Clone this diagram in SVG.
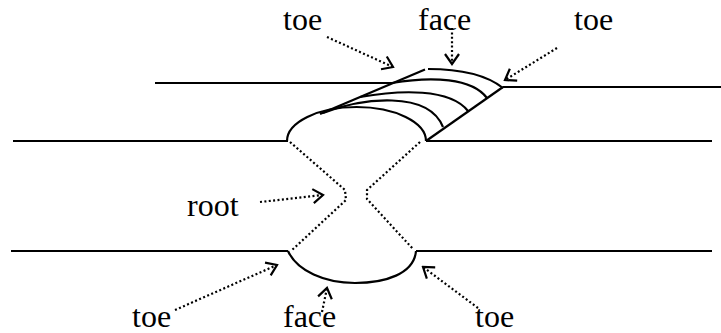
<svg xmlns="http://www.w3.org/2000/svg" width="721" height="333" viewBox="0 0 721 333">
  <style>
    .solid { fill: none; stroke: #000; stroke-width: 2.2; stroke-linecap: butt; stroke-linejoin: round; }
    .dot { fill: none; stroke: #000; stroke-width: 2.2; stroke-dasharray: 2 2.4; }
    .lbl { font-family: "Liberation Serif", "Times New Roman", serif; font-size: 32px; fill: #000; }
  </style>
  <defs>
    <!-- open V arrowhead for the leader lines -->
    <marker id="open" viewBox="-12 -8 14 16" markerWidth="14" markerHeight="16" refX="0" refY="0" orient="auto" markerUnits="userSpaceOnUse">
      <path d="M-10,-7 L0,0 L-10,7" fill="none" stroke="#000" stroke-width="2.2" stroke-linejoin="miter"/>
    </marker>
  </defs>

  <rect width="721" height="333" fill="#fff"/>

  <!-- plate edges -->
  <g id="plates" class="solid">
    <path d="M155,83 H392"/>
    <path d="M503,87 H721"/>
    <path d="M13,141 H288"/>
    <path d="M426,141 H712"/>
    <path d="M11,251 H288"/>
    <path d="M416,251 H712"/>
  </g>

  <!-- weld bead on the top side: front outline, edges, face and ripples -->
  <g id="bead-top" class="solid">
    <path d="M287,141 A69.5,34 0 0 1 426,141"/>
    <path d="M320,114 L425,69.5"/>
    <path d="M426,141 L503,87"/>
    <path d="M428,69 Q479,69 503,88"/>
    <path d="M392,83 C432,76 472,78 487,98"/>
    <path d="M360,97 C400,90 450,88 468,111"/>
    <path d="M323,113 C362,98 428,90 443,127"/>
  </g>

  <!-- weld bead on the root side -->
  <g id="bead-bottom" class="solid">
    <path d="M288,251 C297,271 325,283 355,283 C385,283 414,274 416,251"/>
  </g>

  <!-- joint preparation faces -->
  <g id="groove" class="dot">
    <path d="M290,142 L345,190 L346,200 L292,250"/>
    <path d="M420,142 L367,190 L367,199 L413,249"/>
  </g>

  <!-- labels -->
  <g id="toe-top-left"><text class="lbl" x="283" y="30">toe</text></g>
  <g id="face-top"><text class="lbl" x="418" y="30">face</text></g>
  <g id="toe-top-right"><text class="lbl" x="574" y="30">toe</text></g>
  <g id="root"><text class="lbl" x="187" y="216">root</text></g>
  <g id="toe-bottom-left"><text class="lbl" x="132" y="327">toe</text></g>
  <g id="face-bottom"><text class="lbl" x="283" y="327">face</text></g>
  <g id="toe-bottom-right"><text class="lbl" x="475" y="327">toe</text></g>

  <!-- leader arrows -->
  <g id="connectors" class="dot" marker-end="url(#open)">
    <path d="M327,37 L393,67"/>
    <path d="M452,28 L452,64"/>
    <path d="M557,48 L505,80"/>
    <path d="M260,202 L323,195"/>
    <path d="M175,310 L277,265"/>
    <path d="M322,312 L327,288"/>
    <path d="M478,308 L423,267"/>
  </g>
</svg>
